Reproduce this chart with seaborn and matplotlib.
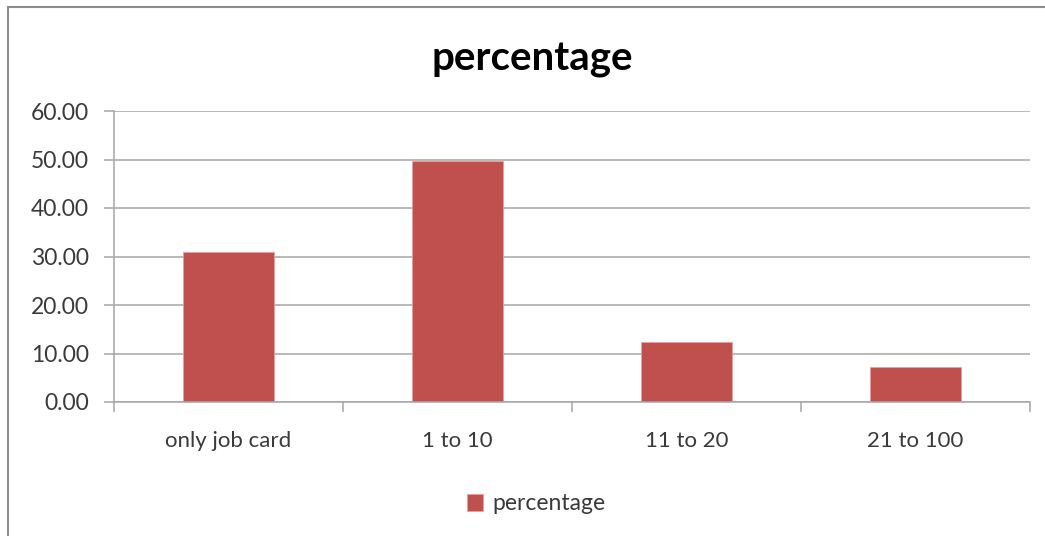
import matplotlib
matplotlib.use("Agg")
import matplotlib.pyplot as plt
import seaborn as sns
import pandas as pd
from matplotlib.patches import Rectangle
from matplotlib.ticker import FormatStrFormatter, FixedLocator

categories = ["only job card", "1 to 10", "11 to 20", "21 to 100"]
values = [30.9, 49.6, 12.3, 7.2]
series_name = "percentage"
y_ticks = [0, 10, 20, 30, 40, 50, 60]

df = pd.DataFrame({"category": categories, "value": values})

sns.set_style("white")
plt.rcParams["font.family"] = ["Lato", "DejaVu Sans"]

W, H = 1045, 536
fig = plt.figure(figsize=(W / 100, H / 100), dpi=100)
ax = fig.add_axes([114 / W, 1 - 402 / H, (1030 - 114) / W, (402 - 111) / H])

bar_color = "#C0504D"
sns.barplot(data=df, x="category", y="value", order=categories, color=bar_color,
            width=0.4, ax=ax, label=series_name, saturation=1,
            edgecolor="#E8A09E", linewidth=0.6)
handles, labels = ax.get_legend_handles_labels()
if ax.get_legend() is not None:
    ax.get_legend().remove()

text_color = "#3A3A3A"
grid_color = "#A6A6A6"
ax.set_xlim(-0.5, len(categories) - 0.5)
ax.set_ylim(0, 60)
ax.set_yticks(y_ticks)
ax.yaxis.set_major_formatter(FormatStrFormatter("%.2f"))
ax.grid(axis="y", color=grid_color, linewidth=1.1)
ax.set_axisbelow(True)
for s in ["top", "right"]:
    ax.spines[s].set_visible(False)
for s in ["left", "bottom"]:
    ax.spines[s].set_color(grid_color)
    ax.spines[s].set_linewidth(1.1)
ax.set_xlabel("")
ax.set_ylabel("")
ax.tick_params(axis="y", length=7, color=grid_color, width=1.1, labelsize=16.5,
               labelcolor=text_color, pad=11, left=True)
ax.tick_params(axis="x", which="major", length=0, labelsize=16,
               labelcolor=text_color, pad=21)
ax.xaxis.set_minor_locator(FixedLocator([i - 0.5 for i in range(len(categories) + 1)]))
ax.tick_params(axis="x", which="minor", length=7, color=grid_color, width=1.1, bottom=True)

fig.text(532 / W, 1 - 59 / H, series_name, ha="center", va="center",
         fontsize=29, fontweight="bold", color="black")

fig.legend(handles[:1], labels[:1], loc="center", bbox_to_anchor=(536 / W, 1 - 504 / H),
           frameon=False, fontsize=16.5, handlelength=0.7, handleheight=0.7,
           handletextpad=0.4, labelcolor=text_color)

fig.patches.append(Rectangle((8 / W, -0.1), 1.2, (1 - 7 / H) + 0.1,
                             transform=fig.transFigure, fill=False,
                             edgecolor="#8C8C8C", linewidth=1.5))

fig.savefig("out.png", dpi=100)
